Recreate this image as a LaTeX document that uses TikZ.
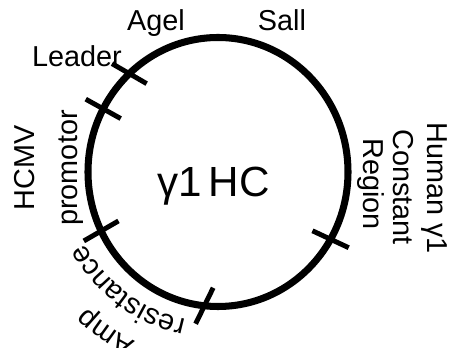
\documentclass[tikz,border=0pt]{standalone}
\usepackage{fontspec}
\setmainfont{Liberation Sans}
\usepackage{tikz}
\usetikzlibrary{decorations.text}
\newcommand{\lblfont}{\fontsize{20.5}{25}\selectfont}
\newcommand{\mapfont}{\fontsize{30}{36}\selectfont}

\begin{document}
\begin{tikzpicture}[
    lbl/.style={font=\lblfont, inner sep=0pt, anchor=base},
    site/.style={line width=3.5pt},
  ]
    \useasboundingbox (-5.45,-4.4) rectangle (5.9,4.3);

    % Plasmid ring
    \draw[line width=5pt] (0,0) ellipse (3.25 and 3.3625);

    % Site ticks (angle on ring / angle of tick)
    \foreach \a/\t in {133/150, 152/151, 206/210, 264/244, 330/335}{
        \draw[site] (\a:3.25 and 3.3625) ++(\t:0.5) -- ++(\t:-1);
    }

    % Name in the middle
    \node[font=\mapfont, inner sep=0pt, anchor=base] (name) at (-0.11,-0.625) {γ1\,HC};

    % Site labels
    \node[lbl] (agel)   at (-1.55,3.525)  {Agel};
    \node[lbl] (sall)   at (1.6,3.525)    {Sall};
    \node[lbl] (leader) at (-3.525,2.625) {Leader};

    % Region labels
    \node[lbl, rotate=90]  (hcmv)     at (-4.575,0.11) {HCMV};
    \node[lbl, rotate=90]  (promotor) at (-3.5,0.1)    {promotor};
    \node[lbl, rotate=-90] (human)    at (5.225,-0.4)  {Human γ1};
    \node[lbl, rotate=-90] (constant) at (4.375,-0.375) {Constant};
    \node[lbl, rotate=-90] (region)   at (3.625,-0.3)  {Region};

    % Amp resistance, set along the ring
    \path[decorate, decoration={text along path, text align=center,
        text={|\lblfont|resistance}}]
        (260:3.78) arc[start angle=260, end angle=206, radius=3.78];
    \path[decorate, decoration={text along path, text align=center,
        text={|\lblfont|Amp}}]
        (255:4.72) arc[start angle=255, end angle=215, radius=4.72];
\end{tikzpicture}
\end{document}
